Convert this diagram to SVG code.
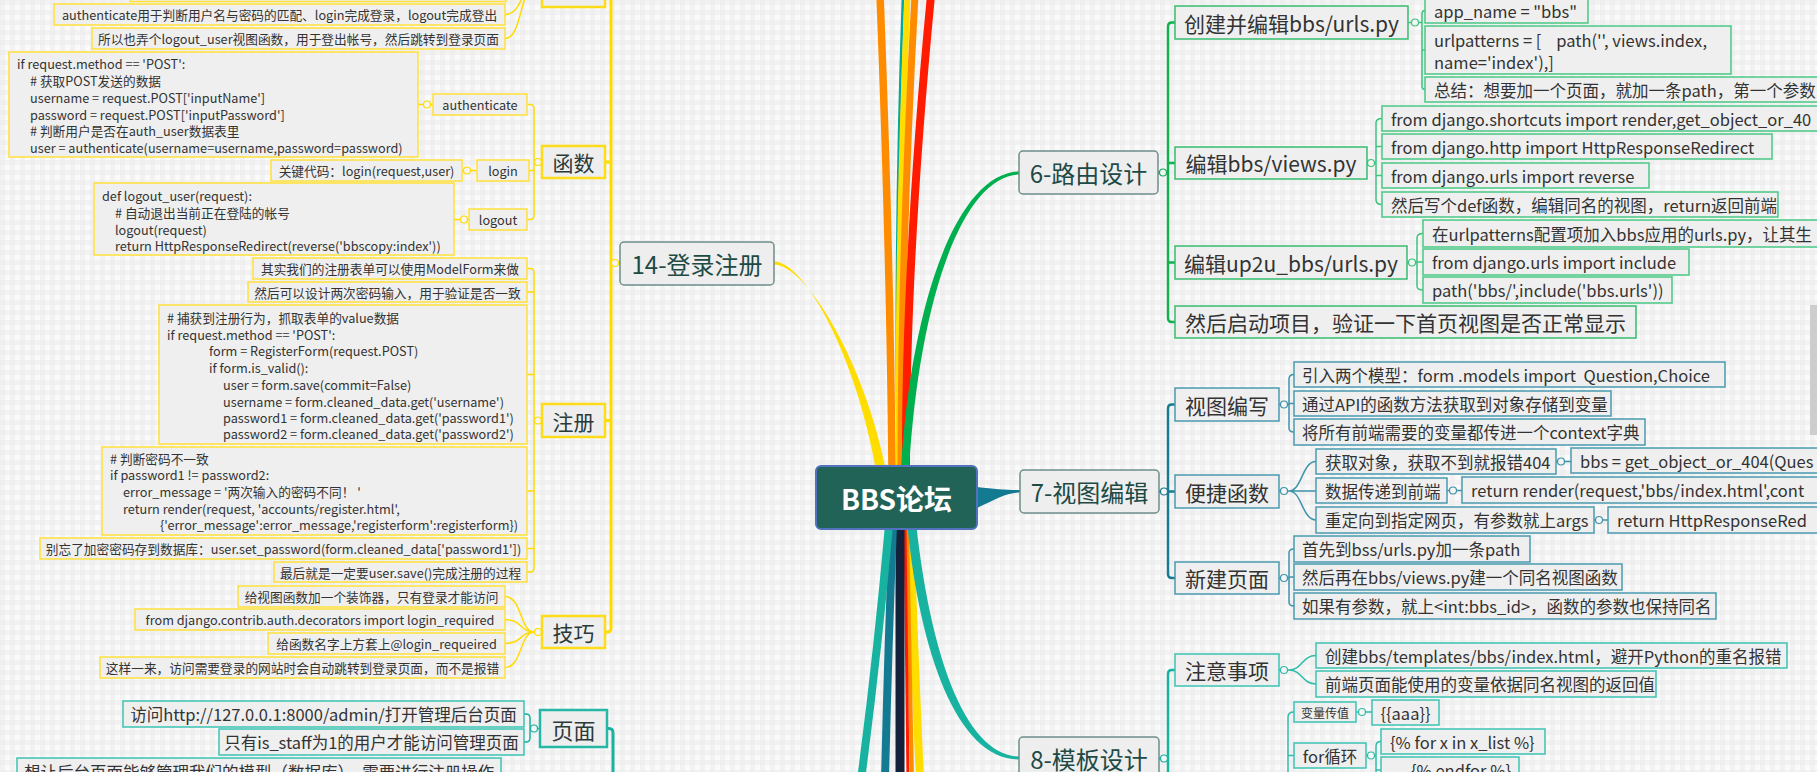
<svg xmlns="http://www.w3.org/2000/svg" width="1817" height="772" viewBox="0 0 1817 772">
<defs>
<pattern id="grid" width="10" height="10" patternUnits="userSpaceOnUse">
<rect width="10" height="10" fill="#fafafa"/>
<rect width="10" height="5" fill="#e9e9e9" opacity="0.5"/>
<rect width="5" height="10" fill="#e9e9e9" opacity="0.5"/>
</pattern>
<style>
text{font-family:"Noto Sans CJK SC","Noto Sans",sans-serif;fill:#333}
.c{text-anchor:middle;dominant-baseline:central}
.s{dominant-baseline:central}
.n1 rect{fill:#eeeeee;stroke:#6e8f8a;stroke-width:1.5}
.n1 text{font-size:24px;fill:#1d4a45}
.root rect{fill:#226358;stroke:#5272bf;stroke-width:2}
.root text{font-size:28px;font-weight:bold;fill:#ffffff}
.y2 rect{fill:#eeeeee;stroke:#ffdc1a;stroke-width:2.5}
.y2 text{font-size:21px;fill:#2b3a39}
.yl rect{fill:#efefef;stroke:#ffe13a;stroke-width:1.5}
.yl text{font-size:12.7px}
.t2 rect{fill:#eeeeee;stroke:#25b8a6;stroke-width:2.5}
.t2 text{font-size:22px;fill:#2b3a39}
.tl rect{fill:#efefef;stroke:#3cc3b3;stroke-width:1.5}
.tl text{font-size:16.5px}
.g2 rect{fill:#efefef;stroke:#36bd6e;stroke-width:1.5}
.g2 text{font-size:21px}
.gl rect{fill:#efefef;stroke:#48c985;stroke-width:1.5}
.gl text{font-size:16.5px}
.b2 rect{fill:#efefef;stroke:#4a9ab0;stroke-width:1.5}
.b2 text{font-size:21px}
.bl rect{fill:#efefef;stroke:#4a9ab0;stroke-width:1.5}
.bl text{font-size:16.5px}
.ln{fill:none;stroke-linecap:butt}
.ly{stroke:#ffdc00}
.lg{stroke:#12b04f}
.lb{stroke:#197b92}
.lt{stroke:#17b3a0}
.dot{stroke-width:1.2;fill:#f5f5f5}
</style>
</defs>
<rect width="1817" height="772" fill="url(#grid)"/>
<rect x="1810" y="305" width="7" height="130" fill="#cdcdcd"/>

<g id="connectors">
<path class="ln" d="M880,-5 Q890,250 892,470" stroke="#ff8c00" stroke-width="7.5"/>
<path class="ln" d="M903,-5 Q894,250 898,470" stroke="#00a99d" stroke-width="2.5"/>
<path class="ln" d="M907.5,-5 Q897,250 899,470" stroke="#ffdd00" stroke-width="6"/>
<path class="ln" d="M915,-5 Q901,250 901,470" stroke="#ff8c00" stroke-width="7"/>
<path class="ln" d="M931,-5 Q905,267 906,470" stroke="#ff1c00" stroke-width="8"/>
<path d="M774,261.5 C806,262 857,360 876,470 L886,470 C864,360 806,265 774,264.5 Z" fill="#ffdd00"/>
<path d="M1019,171.5 C958,173 911,300 901,470 L909,470 C919,300 962,177 1019,174.5 Z" fill="#00b04f"/>
<path class="ln" d="M910,525 Q914,650 920,780" stroke="#ffdd00" stroke-width="8"/>
<path class="ln" d="M907,525 Q910,650 912,780" stroke="#ff8c00" stroke-width="4"/>
<path class="ln" d="M905,525 Q907,650 908,780" stroke="#ff1a00" stroke-width="3"/>
<path class="ln" d="M900,525 L900,780" stroke="#14213b" stroke-width="9"/>
<path class="ln" d="M893,525 Q888,650 885,780" stroke="#137a92" stroke-width="8"/>
<path class="ln" d="M889,525 Q878,650 861,780" stroke="#17b3a0" stroke-width="8"/>
<path d="M907.5,527 C920,652 957,759.5 1019,759.5 L1019,756.5 C963,755 930,648 916.5,527 Z" fill="#17b3a0"/>
<path d="M977,487 C995,489 1005,490 1020,490 L1020,492.5 C1005,493 995,500 977,508 Z" fill="#137a92"/>

<path class="ln ly" stroke-width="3" d="M605,-12 H607 Q611,-12 611,-8 V628 Q611,632 607,632 H605 M611,162 H605 M611,420.5 H605 M620,263 H611"/>
<circle class="dot ly" cx="615" cy="263" r="3.5"/>
<path class="ln ly" stroke-width="1.5" d="M534,-12 C520,-12 522,-12 506,-12 M534,-12 C520,-12 522,14.5 505,14.5 M534,-12 C520,-12 522,38.5 505,38.5"/>
<path class="ln ly" stroke-width="1.5" d="M542,162 H534 M527,104.5 H530 Q534,104.5 534,108.5 V215.5 Q534,219.5 530,219.5 H527 M534,170.5 H529 M418,104.5 H433 M462,170.5 H477 M454,219.5 H469"/>
<circle class="dot ly" cx="538" cy="162" r="3.5"/>
<circle class="dot ly" cx="427" cy="104.5" r="3.5"/>
<circle class="dot ly" cx="467" cy="170.5" r="3.5"/>
<circle class="dot ly" cx="464" cy="219.5" r="3.5"/>
<path class="ln ly" stroke-width="1.5" d="M542,420.5 H534 M527,268.5 H530 Q534,268.5 534,272.5 V568 Q534,572 530,572 H527 M534,292 H527 M534,374.5 H527 M534,491 H527 M534,548.5 H527"/>
<circle class="dot ly" cx="538" cy="420.5" r="3.5"/>
<path class="ln ly" stroke-width="1.5" d="M542,632 H534 M534,632 C520,632 522,596.5 505,596.5 M534,632 C520,632 522,619.5 505,619.5 M534,632 C520,632 522,643.5 505,643.5 M534,632 C520,632 522,667.5 505,667.5"/>
<circle class="dot ly" cx="538" cy="632" r="3.5"/>

<path class="ln lt" stroke-width="3" d="M607,728.5 H609 Q613,728.5 613,733 V780"/>
<path class="ln lt" stroke-width="1.5" d="M540,728.5 H530 M524,714 H526 Q530,714 530,718 V738 Q530,742 526,742 H524"/>
<circle class="dot lt" cx="534" cy="728.5" r="3.5"/>

<path class="ln lg" stroke-width="2.5" d="M1175,22.5 H1172 Q1168,22.5 1168,26.5 V318 Q1168,322 1172,322 H1175 M1158,172.5 H1168 M1168,163 H1175 M1168,262.5 H1175"/>
<circle class="dot lg" cx="1163" cy="172.5" r="3.5"/>
<path class="ln" stroke="#3cc47c" stroke-width="1.5" d="M1408,22.5 H1422 M1425,10.5 Q1422,10.5 1422,14 V86 Q1422,89.5 1425,89.5 M1422,50 H1425"/>
<circle class="dot" stroke="#3cc47c" cx="1415" cy="22.5" r="3.5"/>
<path class="ln" stroke="#3cc47c" stroke-width="1.5" d="M1367,163 H1376 M1382,118.5 Q1376,118.5 1376,123 V200 Q1376,204.5 1382,204.5 M1376,146.5 H1382 M1376,175.5 H1382"/>
<circle class="dot" stroke="#3cc47c" cx="1371" cy="163" r="3.5"/>
<path class="ln" stroke="#3cc47c" stroke-width="1.5" d="M1407,262.5 H1417 M1423,233.5 Q1417,233.5 1417,238 V286 Q1417,290 1423,290 M1417,262 H1423"/>
<circle class="dot" stroke="#3cc47c" cx="1412" cy="262.5" r="3.5"/>

<path class="ln lb" stroke-width="2.5" d="M1175,404.5 H1172 Q1168,404.5 1168,408.5 V574 Q1168,578 1172,578 H1175 M1159,491.5 H1175"/>
<circle class="dot lb" cx="1164" cy="491.5" r="3.5"/>
<path class="ln" stroke="#3f93aa" stroke-width="1.5" d="M1279,404.5 H1289 M1294,374.5 Q1289,374.5 1289,379 V428 Q1289,432 1294,432 M1289,403.5 H1294"/>
<circle class="dot" stroke="#3f93aa" cx="1284" cy="404.5" r="3.5"/>
<path class="ln" stroke="#3f93aa" stroke-width="1.5" d="M1279,491 H1289 M1289,491 C1302,491 1302,461.5 1316,461.5 M1289,491 H1316 M1289,491 C1302,491 1302,520 1316,520 M1556,461.5 H1571 M1447,490.5 H1462 M1594,520 H1608"/>
<circle class="dot" stroke="#3f93aa" cx="1284" cy="491" r="3.5"/>
<circle class="dot" stroke="#3f93aa" cx="1561" cy="461.5" r="3.5"/>
<circle class="dot" stroke="#3f93aa" cx="1453" cy="490.5" r="3.5"/>
<circle class="dot" stroke="#3f93aa" cx="1599" cy="520" r="3.5"/>
<path class="ln" stroke="#3f93aa" stroke-width="1.5" d="M1279,578 H1289 M1294,549 Q1289,549 1289,553 V602 Q1289,606 1294,606 M1289,577 H1294"/>
<circle class="dot" stroke="#3f93aa" cx="1284" cy="578" r="3.5"/>

<path class="ln lt" stroke-width="2.5" d="M1175,670 H1172 Q1168,670 1168,674 V780 M1159,758.5 H1168"/>
<circle class="dot lt" cx="1164" cy="758.5" r="3.5"/>
<path class="ln" stroke="#2fbcab" stroke-width="1.5" d="M1279,670 H1289 M1289,670 C1302,670 1302,655.5 1316,655.5 M1289,670 C1302,670 1302,684 1316,684"/>
<circle class="dot" stroke="#2fbcab" cx="1284" cy="670" r="3.5"/>
<path class="ln" stroke="#2fbcab" stroke-width="1.5" d="M1294,712 Q1288,712 1288,717 V780 M1288,755.5 H1294 M1356,712 H1372 M1366,755.5 H1376 M1381,741.5 Q1376,741.5 1376,746 V780 M1376,770 H1381"/>
<circle class="dot" stroke="#2fbcab" cx="1362" cy="712" r="3.5"/>
<circle class="dot" stroke="#2fbcab" cx="1371" cy="755.5" r="3.5"/>
</g>

<g id="root" class="root"><rect x="816" y="466" width="161" height="63" rx="5"/><text class="c" x="896.5" y="497.5">BBS论坛</text></g>

<g id="n14" class="n1"><rect x="620" y="242" width="154" height="43" rx="4"/><text class="c" x="697" y="263.5">14-登录注册</text></g>
<g id="n6" class="n1"><rect x="1019" y="151" width="139" height="43" rx="4"/><text class="c" x="1088.5" y="172.5">6-路由设计</text></g>
<g id="n7" class="n1"><rect x="1020" y="470" width="139" height="43" rx="4"/><text class="c" x="1089.5" y="491.5">7-视图编辑</text></g>
<g id="n8" class="n1"><rect x="1019" y="737" width="140" height="43" rx="4"/><text class="c" x="1089" y="758.5">8-模板设计</text></g>

<g id="y-top" class="y2"><rect x="542" y="-30" width="63" height="37"/></g>
<g id="y-top-leaf" class="yl"><rect x="130" y="-25" width="376" height="26.5"/></g>
<g id="y-l1" class="yl"><rect x="54" y="4" width="451" height="21"/><text class="c" x="279.5" y="14.5">authenticate用于判断用户名与密码的匹配、login完成登录，logout完成登出</text></g>
<g id="y-l2" class="yl"><rect x="92" y="28" width="413" height="21"/><text class="c" x="298.5" y="38.5">所以也弄个logout_user视图函数，用于登出帐号，然后跳转到登录页面</text></g>
<g id="y-func" class="y2"><rect x="542" y="146" width="63" height="32"/><text class="c" x="573.5" y="162">函数</text></g>
<g id="y-auth" class="yl"><rect x="433" y="94" width="94" height="21"/><text class="c" x="480" y="104.5">authenticate</text></g>
<g id="y-authcode" class="yl"><rect x="9" y="52" width="409" height="105"/>
<text class="s"><tspan x="17" y="63">if request.method == 'POST':</tspan><tspan x="30" y="80"># 获取POST发送的数据</tspan><tspan x="30" y="97">username = request.POST['inputName']</tspan><tspan x="30" y="114">password = request.POST['inputPassword']</tspan><tspan x="30" y="130"># 判断用户是否在auth_user数据表里</tspan><tspan x="30" y="147">user = authenticate(username=username,password=password)</tspan></text></g>
<g id="y-login" class="yl"><rect x="477" y="160" width="52" height="21"/><text class="c" x="503" y="170.5">login</text></g>
<g id="y-logincode" class="yl"><rect x="271" y="160" width="191" height="21"/><text class="c" x="366.5" y="170.5">关键代码：login(request,user)</text></g>
<g id="y-logout" class="yl"><rect x="469" y="209" width="58" height="21"/><text class="c" x="498" y="219.5">logout</text></g>
<g id="y-logoutcode" class="yl"><rect x="94" y="183" width="360" height="72"/>
<text class="s"><tspan x="102" y="195">def logout_user(request):</tspan><tspan x="115" y="212"># 自动退出当前正在登陆的帐号</tspan><tspan x="115" y="229">logout(request)</tspan><tspan x="115" y="245">return HttpResponseRedirect(reverse('bbscopy:index'))</tspan></text></g>
<g id="y-reg" class="y2"><rect x="542" y="404" width="63" height="33"/><text class="c" x="573.5" y="420.5">注册</text></g>
<g id="y-r1" class="yl"><rect x="253" y="258" width="274" height="21"/><text class="c" x="390" y="268.5">其实我们的注册表单可以使用ModelForm来做</text></g>
<g id="y-r2" class="yl"><rect x="248" y="282" width="279" height="20"/><text class="c" x="387.5" y="292">然后可以设计两次密码输入，用于验证是否一致</text></g>
<g id="y-r3" class="yl"><rect x="159" y="305" width="368" height="139"/>
<text class="s"><tspan x="167" y="317"># 捕获到注册行为，抓取表单的value数据</tspan><tspan x="167" y="334">if request.method == 'POST':</tspan><tspan x="209" y="350">form = RegisterForm(request.POST)</tspan><tspan x="209" y="367">if form.is_valid():</tspan><tspan x="223" y="384">user = form.save(commit=False)</tspan><tspan x="223" y="401">username = form.cleaned_data.get('username')</tspan><tspan x="223" y="417">password1 = form.cleaned_data.get('password1')</tspan><tspan x="223" y="433">password2 = form.cleaned_data.get('password2')</tspan></text></g>
<g id="y-r4" class="yl"><rect x="102" y="447" width="425" height="88"/>
<text class="s"><tspan x="110" y="458"># 判断密码不一致</tspan><tspan x="110" y="474">if password1 != password2:</tspan><tspan x="123" y="491">error_message = '两次输入的密码不同！ '</tspan><tspan x="123" y="508">return render(request, 'accounts/register.html',</tspan><tspan x="160" y="524">{'error_message':error_message,'registerform':registerform})</tspan></text></g>
<g id="y-r5" class="yl"><rect x="40" y="538" width="487" height="21"/><text class="c" x="283.5" y="548.5">别忘了加密密码存到数据库：user.set_password(form.cleaned_data['password1'])</text></g>
<g id="y-r6" class="yl"><rect x="274" y="562" width="253" height="20"/><text class="c" x="400.5" y="572">最后就是一定要user.save()完成注册的过程</text></g>
<g id="y-tip" class="y2"><rect x="542" y="616" width="63" height="32"/><text class="c" x="573.5" y="632">技巧</text></g>
<g id="y-t1" class="yl"><rect x="238" y="586" width="267" height="21"/><text class="c" x="371.5" y="596.5">给视图函数加一个装饰器，只有登录才能访问</text></g>
<g id="y-t2" class="yl"><rect x="135" y="609" width="370" height="21"/><text class="c" x="320" y="619.5">from django.contrib.auth.decorators import login_required</text></g>
<g id="y-t3" class="yl"><rect x="268" y="633" width="237" height="21"/><text class="c" x="386.5" y="643.5">给函数名字上方套上@login_requeired</text></g>
<g id="y-t4" class="yl"><rect x="100" y="657" width="405" height="21"/><text class="c" x="302.5" y="667.5">这样一来，访问需要登录的网站时会自动跳转到登录页面，而不是报错</text></g>

<g id="p-page" class="t2"><rect x="540" y="710" width="67" height="37"/><text class="c" x="573.5" y="728.5">页面</text></g>
<g id="p-1" class="tl"><rect x="123" y="701" width="401" height="26"/><text class="c" x="323.5" y="714">访问http://127.0.0.1:8000/admin/打开管理后台页面</text></g>
<g id="p-2" class="tl"><rect x="219" y="729" width="305" height="26"/><text class="c" x="371.5" y="742">只有is_staff为1的用户才能访问管理页面</text></g>
<g id="p-3" class="tl"><rect x="17" y="758" width="484" height="28"/><text class="c" x="259" y="772">想让后台页面能够管理我们的模型（数据库），需要进行注册操作</text></g>

<g id="g-1" class="g2"><rect x="1175" y="6" width="233" height="33"/><text class="c" x="1291.5" y="22.5">创建并编辑bbs/urls.py</text></g>
<g id="g-1a" class="gl"><rect x="1425" y="-2" width="163" height="25"/><text class="s" x="1434" y="11">app_name = "bbs"</text></g>
<g id="g-1b" class="gl"><rect x="1425" y="26" width="306" height="48"/><text class="s"><tspan x="1434" y="40">urlpatterns = [&#160;&#160;&#160;&#160;path('', views.index,</tspan><tspan x="1434" y="62">name='index'),]</tspan></text></g>
<g id="g-1c" class="gl"><rect x="1425" y="77" width="410" height="25"/><text class="s" x="1434" y="89.5">总结：想要加一个页面，就加一条path，第一个参数</text></g>
<g id="g-2" class="g2"><rect x="1175" y="147" width="192" height="32"/><text class="c" x="1271" y="163">编辑bbs/views.py</text></g>
<g id="g-2a" class="gl"><rect x="1382" y="106" width="450" height="25"/><text class="s" x="1391" y="118.5">from django.shortcuts import render,get_object_or_40</text></g>
<g id="g-2b" class="gl"><rect x="1382" y="134" width="390" height="25"/><text class="s" x="1391" y="146.5">from django.http import HttpResponseRedirect</text></g>
<g id="g-2c" class="gl"><rect x="1382" y="163" width="267" height="25"/><text class="s" x="1391" y="175.5">from django.urls import reverse</text></g>
<g id="g-2d" class="gl"><rect x="1382" y="192" width="396" height="25"/><text class="s" x="1391" y="204.5">然后写个def函数，编辑同名的视图，return返回前端</text></g>
<g id="g-3" class="g2"><rect x="1175" y="246" width="232" height="33"/><text class="c" x="1291" y="262.5">编辑up2u_bbs/urls.py</text></g>
<g id="g-3a" class="gl"><rect x="1423" y="220" width="410" height="27"/><text class="s" x="1432" y="233.5">在urlpatterns配置项加入bbs应用的urls.py，让其生</text></g>
<g id="g-3b" class="gl"><rect x="1423" y="249" width="266" height="26"/><text class="s" x="1432" y="262">from django.urls import include</text></g>
<g id="g-3c" class="gl"><rect x="1423" y="277" width="249" height="26"/><text class="s" x="1432" y="290">path('bbs/',include('bbs.urls'))</text></g>
<g id="g-4" class="g2"><rect x="1175" y="306" width="461" height="32"/><text class="c" x="1405.5" y="322">然后启动项目，验证一下首页视图是否正常显示</text></g>

<g id="b-1" class="b2"><rect x="1175" y="388" width="104" height="33"/><text class="c" x="1227" y="404.5">视图编写</text></g>
<g id="b-1a" class="bl"><rect x="1294" y="362" width="431" height="25"/><text class="s" x="1302" y="374.5">引入两个模型：form .models import&#160; Question,Choice</text></g>
<g id="b-1b" class="bl"><rect x="1294" y="391" width="317" height="25"/><text class="s" x="1302" y="403.5">通过API的函数方法获取到对象存储到变量</text></g>
<g id="b-1c" class="bl"><rect x="1294" y="419" width="351" height="26"/><text class="s" x="1302" y="432">将所有前端需要的变量都传进一个context字典</text></g>
<g id="b-2" class="b2"><rect x="1175" y="475" width="104" height="33"/><text class="c" x="1227" y="491.5">便捷函数</text></g>
<g id="b-2a" class="bl"><rect x="1316" y="449" width="240" height="25"/><text class="s" x="1325" y="461.5">获取对象，获取不到就报错404</text></g>
<g id="b-2a1" class="bl"><rect x="1571" y="448" width="260" height="25"/><text class="s" x="1580" y="460.5">bbs = get_object_or_404(Ques</text></g>
<g id="b-2b" class="bl"><rect x="1316" y="478" width="131" height="25"/><text class="s" x="1325" y="490.5">数据传递到前端</text></g>
<g id="b-2b1" class="bl"><rect x="1462" y="477" width="370" height="26"/><text class="s" x="1471" y="490">return render(request,'bbs/index.html',cont</text></g>
<g id="b-2c" class="bl"><rect x="1316" y="507" width="278" height="26"/><text class="s" x="1325" y="520">重定向到指定网页，有参数就上args</text></g>
<g id="b-2c1" class="bl"><rect x="1608" y="507" width="224" height="26"/><text class="s" x="1617" y="520">return HttpResponseRed</text></g>
<g id="b-3" class="b2"><rect x="1175" y="562" width="104" height="32"/><text class="c" x="1227" y="578">新建页面</text></g>
<g id="b-3a" class="bl"><rect x="1294" y="536" width="236" height="26"/><text class="s" x="1302" y="549">首先到bss/urls.py加一条path</text></g>
<g id="b-3b" class="bl"><rect x="1294" y="564" width="328" height="26"/><text class="s" x="1302" y="577">然后再在bbs/views.py建一个同名视图函数</text></g>
<g id="b-3c" class="bl"><rect x="1294" y="593" width="422" height="26"/><text class="s" x="1302" y="606">如果有参数，就上&lt;int:bbs_id&gt;，函数的参数也保持同名</text></g>

<g id="t-1" class="tl"><rect x="1175" y="654" width="104" height="32"/><text class="c" x="1227" y="670" style="font-size:21px">注意事项</text></g>
<g id="t-1a" class="tl"><rect x="1316" y="643" width="471" height="25"/><text class="s" x="1325" y="655.5">创建bbs/templates/bbs/index.html，避开Python的重名报错</text></g>
<g id="t-1b" class="tl"><rect x="1316" y="671" width="340" height="26"/><text class="s" x="1325" y="684">前端页面能使用的变量依据同名视图的返回值</text></g>
<g id="t-2" class="tl"><rect x="1294" y="702" width="62" height="20"/><text class="c" x="1325" y="712" style="font-size:12px">变量传值</text></g>
<g id="t-2a" class="tl"><rect x="1372" y="700" width="67" height="25"/><text class="c" x="1405.5" y="712.5">{{aaa}}</text></g>
<g id="t-3" class="tl"><rect x="1294" y="743" width="72" height="25"/><text class="c" x="1330" y="755.5">for循环</text></g>
<g id="t-3a" class="tl"><rect x="1381" y="729" width="164" height="25"/><text class="s" x="1390" y="741.5">{% for x in x_list %}</text></g>
<g id="t-3b" class="tl"><rect x="1381" y="757" width="138" height="26"/><text class="s" x="1411" y="770">{% endfor %}</text></g>
</svg>
